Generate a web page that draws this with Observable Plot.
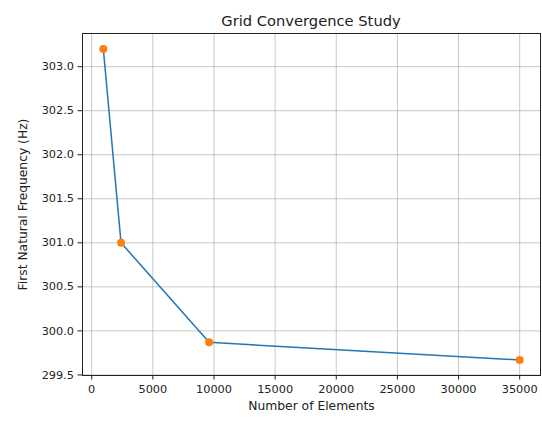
<!DOCTYPE html>
<html>
<head>
<meta charset="utf-8">
<script src="https://cdn.jsdelivr.net/npm/d3@7"></script>
<script src="https://cdn.jsdelivr.net/npm/@observablehq/plot@0.6"></script>
<style>
  html, body { margin: 0; padding: 0; background: #fff; }
  #wrap { position: relative; width: 542px; height: 422px; }
  #title { position: absolute; left: 82px; width: 458px; top: 12px; text-align: center;
           font: 14.7px/17px "DejaVu Sans", sans-serif; color: #222; white-space: nowrap; }
  #chart { position: absolute; left: 0; top: 0; }
</style>
</head>
<body>
<div id="wrap">
  <div id="chart"></div>
  <div id="title">Grid Convergence Study</div>
</div>
<script>
const elements = [950, 2400, 9600, 35000];
const frequency = [303.2, 301.0, 299.87, 299.67];
const xTicks = [0, 5000, 10000, 15000, 20000, 25000, 30000, 35000];
const yTicks = [299.5, 300.0, 300.5, 301.0, 301.5, 302.0, 302.5, 303.0];
const xLabel = "Number of Elements";
const yLabel = "First Natural Frequency (Hz)";

const data = elements.map((x, i) => ({x, y: frequency[i]}));
const xr = d3.max(elements) - d3.min(elements);
const yr = d3.max(frequency) - d3.min(frequency);
const xDomain = [d3.min(elements) - 0.05 * xr, d3.max(elements) + 0.05 * xr];
const yDomain = [d3.min(frequency) - 0.05 * yr, d3.max(frequency) + 0.05 * yr];

const chart = Plot.plot({
  width: 542,
  height: 422,
  marginTop: 33,
  marginLeft: 82,
  marginRight: 2,
  marginBottom: 47,
  style: {fontFamily: "'DejaVu Sans', sans-serif", fontSize: "11px", color: "#222", background: "#fff"},
  x: {domain: xDomain},
  y: {domain: yDomain},
  marks: [
    Plot.gridX(xTicks, {stroke: "#b0b0b0", strokeOpacity: 0.7, strokeWidth: 1}),
    Plot.gridY(yTicks, {stroke: "#b0b0b0", strokeOpacity: 0.7, strokeWidth: 1}),
    Plot.axisX(xTicks, {tickSize: 4.5, tickPadding: 5, tickFormat: d3.format("d"), label: null, fontSize: 11.3}),
    Plot.axisY(yTicks, {tickSize: 4.5, tickPadding: 4, tickFormat: d3.format(".1f"), label: null, fontSize: 11.3}),
    Plot.line(data, {x: "x", y: "y", stroke: "#1f77b4", strokeWidth: 1.5}),
    Plot.dot(data, {x: "x", y: "y", r: 4, fill: "#ff7f0e", stroke: null}),
    Plot.frame({stroke: "#222", strokeWidth: 1}),
    Plot.text([xLabel], {text: d => d, frameAnchor: "bottom", dy: 34, fontSize: 12.3, fill: "#222"}),
    Plot.text([yLabel], {text: d => d, frameAnchor: "left", textAnchor: "middle", dx: -59, rotate: -90, fontSize: 12.3, fill: "#222"})
  ]
});
document.getElementById("chart").appendChild(chart);
</script>
</body>
</html>
